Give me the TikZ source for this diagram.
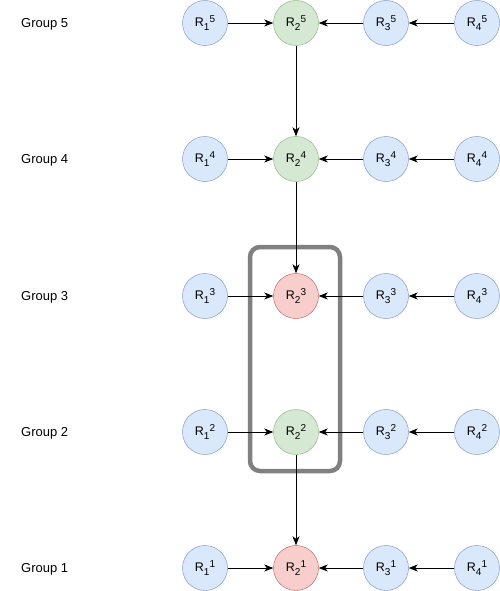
\documentclass[tikz,border=0pt]{standalone}
\usepackage{fontspec}
\setmainfont{Liberation Sans}
\usetikzlibrary{arrows.meta}

\definecolor{bluefill}{HTML}{DAE8FC}
\definecolor{blueline}{HTML}{6C8EBF}
\definecolor{greenfill}{HTML}{D5E8D4}
\definecolor{greenline}{HTML}{82B366}
\definecolor{redfill}{HTML}{F8CECC}
\definecolor{redline}{HTML}{B85450}

\newcommand{\rname}[2]{R\raisebox{-3.5pt}{\fontsize{10}{10}\selectfont #1}\raisebox{4.5pt}{\fontsize{10}{10}\selectfont #2}}

\begin{document}
\begin{tikzpicture}[x=1pt,y=-1pt,
    replica/.style={draw,circle,minimum size=45pt,inner sep=0pt,font=\fontsize{12.5}{14}\selectfont},
    rblue/.style={replica,fill=bluefill,draw=blueline},
    rgreen/.style={replica,fill=greenfill,draw=greenline},
    rred/.style={replica,fill=redfill,draw=redline},
    group/.style={anchor=west,inner sep=0pt,font=\fontsize{13}{15}\selectfont},
    link/.style={-{Stealth[length=9pt,width=7pt,inset=2.5pt]},line width=0.8pt}]
        \useasboundingbox (0,0) rectangle (500,591);

        % group labels
        \node [group] at (21,24) (g5){Group 5};
        \node [group] at (21,160) (g4){Group 4};
        \node [group] at (21,297) (g3){Group 3};
        \node [group] at (21,433) (g2){Group 2};
        \node [group] at (21,569) (g1){Group 1};

        % group 5
        \node [rblue] at (205,23) (r15){\rname{1}{5}};
        \node [rgreen] at (296,23) (r25){\rname{2}{5}};
        \node [rblue] at (386,23) (r35){\rname{3}{5}};
        \node [rblue] at (477,23) (r45){\rname{4}{5}};

        % group 4
        \node [rblue] at (205,159) (r14){\rname{1}{4}};
        \node [rgreen] at (296,159) (r24){\rname{2}{4}};
        \node [rblue] at (386,159) (r34){\rname{3}{4}};
        \node [rblue] at (477,159) (r44){\rname{4}{4}};

        % group 3
        \node [rblue] at (205,296) (r13){\rname{1}{3}};
        \node [rred] at (296,296) (r23){\rname{2}{3}};
        \node [rblue] at (386,296) (r33){\rname{3}{3}};
        \node [rblue] at (477,296) (r43){\rname{4}{3}};

        % group 2
        \node [rblue] at (205,432) (r12){\rname{1}{2}};
        \node [rgreen] at (296,432) (r22){\rname{2}{2}};
        \node [rblue] at (386,432) (r32){\rname{3}{2}};
        \node [rblue] at (477,432) (r42){\rname{4}{2}};

        % group 1
        \node [rblue] at (205,568) (r11){\rname{1}{1}};
        \node [rred] at (296,568) (r21){\rname{2}{1}};
        \node [rblue] at (386,568) (r31){\rname{3}{1}};
        \node [rblue] at (477,568) (r41){\rname{4}{1}};

        % highlight
        \node [draw=gray,line width=4.5pt,rounded corners=10pt,minimum width=90pt,minimum height=224pt] at (295,359) (box){};

        \draw [link] (r15) -- (r25);
        \draw [link] (r35) -- (r25);
        \draw [link] (r45) -- (r35);
        \draw [link] (r14) -- (r24);
        \draw [link] (r34) -- (r24);
        \draw [link] (r44) -- (r34);
        \draw [link] (r13) -- (r23);
        \draw [link] (r33) -- (r23);
        \draw [link] (r43) -- (r33);
        \draw [link] (r12) -- (r22);
        \draw [link] (r32) -- (r22);
        \draw [link] (r42) -- (r32);
        \draw [link] (r11) -- (r21);
        \draw [link] (r31) -- (r21);
        \draw [link] (r41) -- (r31);
        \draw [link] (r25) -- (r24);
        \draw [link] (r24) -- (r23);
        \draw [link] (r22) -- (r21);
      \end{tikzpicture}
\end{document}
